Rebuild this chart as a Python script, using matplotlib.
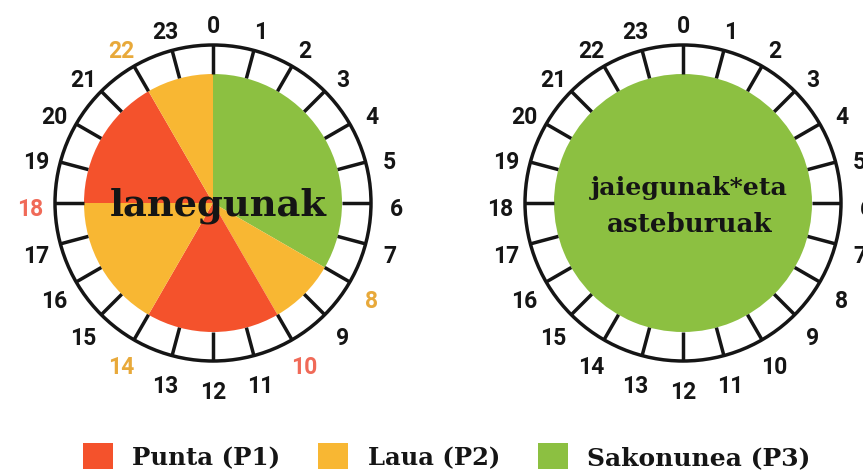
import matplotlib
matplotlib.use("Agg")
import matplotlib.pyplot as plt
import numpy as np
from matplotlib.patches import Circle, Rectangle

# ---------------- data ----------------
hours = list(range(24))

weekday_periods = ["P3", "P2", "P1", "P2", "P1", "P2"]
weekday_durations = [8, 2, 4, 4, 4, 2]          # 0-8, 8-10, 10-14, 14-18, 18-22, 22-24

weekend_periods = ["P3"]
weekend_durations = [24]

period_names = ["P1", "P2", "P3"]
period_labels = ["Punta (P1)", "Laua (P2)", "Sakonunea (P3)"]
period_colors = {"P1": "#F4522C", "P2": "#F8B733", "P3": "#8CC041"}

# hours whose label is highlighted on the weekday clock (start of a period)
weekday_highlight_hours = [8, 10, 14, 18, 22]
weekday_highlight_periods = ["P2", "P1", "P2", "P1", "P2"]
highlight_label_colors = {"P1": "#F06A58", "P2": "#E8A93A"}

title_weekday = "lanegunak"
title_weekend_1 = "jaiegunak*eta"
title_weekend_2 = "asteburuak"

# ---------------- layout ----------------
W, H = 863, 473
fig = plt.figure(figsize=(W / 100, H / 100), dpi=100)
ax = fig.add_axes([0, 0, 1, 1])

INK = "#151515"
R_PIE = 129
R_RING = 158
R_LAB = 183
NUM_FONT = dict(family=["Roboto", "DejaVu Sans"], weight="bold", fontsize=16.5)
SERIF = dict(family=["DejaVu Serif"], weight="bold", color=INK)


def py(y):
    """pixel row (from top) to data y"""
    return H - y


def draw_clock(cx, cy, durations, periods, label_colors):
    c = (cx, py(cy))
    ax.pie(durations, colors=[period_colors[p] for p in periods],
           startangle=90, counterclock=False, center=c, radius=R_PIE,
           frame=True, wedgeprops=dict(linewidth=0))
    ax.add_patch(Circle(c, R_RING, fill=False, lw=2.5, ec=INK, zorder=3))
    for h in hours:
        a = np.deg2rad(90 - h * 360 / 24)
        ax.plot([c[0] + R_PIE * np.cos(a), c[0] + R_RING * np.cos(a)],
                [c[1] + R_PIE * np.sin(a), c[1] + R_RING * np.sin(a)],
                color=INK, lw=2.5, solid_capstyle="butt", zorder=3)
        ax.text(c[0] + R_LAB * np.cos(a), c[1] - 4 + R_LAB * np.sin(a),
                str(h), ha="center", va="center_baseline",
                color=label_colors.get(h, INK), **NUM_FONT)


wk_colors = {h: highlight_label_colors[p]
             for h, p in zip(weekday_highlight_hours, weekday_highlight_periods)}
draw_clock(213, 203, weekday_durations, weekday_periods, wk_colors)
draw_clock(683, 203, weekend_durations, weekend_periods, {})

ax.set_xlim(0, W)
ax.set_ylim(0, H)
ax.set_aspect("auto")
ax.axis("off")

fig.canvas.draw()
renderer = fig.canvas.get_renderer()


def fit(t, target_w):
    w = t.get_window_extent(renderer).width
    t.set_fontsize(t.get_fontsize() * target_w / w)


t1 = ax.text(218, py(215), title_weekday, ha="center", va="baseline",
             fontsize=28, zorder=4, **SERIF)
fit(t1, 217)
t2 = ax.text(689, py(195), title_weekend_1, ha="center", va="baseline",
             fontsize=18, zorder=4, **SERIF)
fit(t2, 197)
t3 = ax.text(690, py(232), title_weekend_2, ha="center", va="baseline",
             fontsize=18, zorder=4, **SERIF)
fit(t3, 165)

# legend
sq_x = [83, 318, 538]
txt_x = [132, 368, 587]
txt_w = [148, 132, 223]
for name, lab, sx, tx, tw in zip(period_names, period_labels, sq_x, txt_x, txt_w):
    ax.add_patch(Rectangle((sx, py(469)), 30, 26, color=period_colors[name], lw=0))
    t = ax.text(tx, py(465), lab, ha="left", va="baseline", fontsize=18, **SERIF)
    fit(t, tw)

fig.savefig("out.png", dpi=100, facecolor="white")
